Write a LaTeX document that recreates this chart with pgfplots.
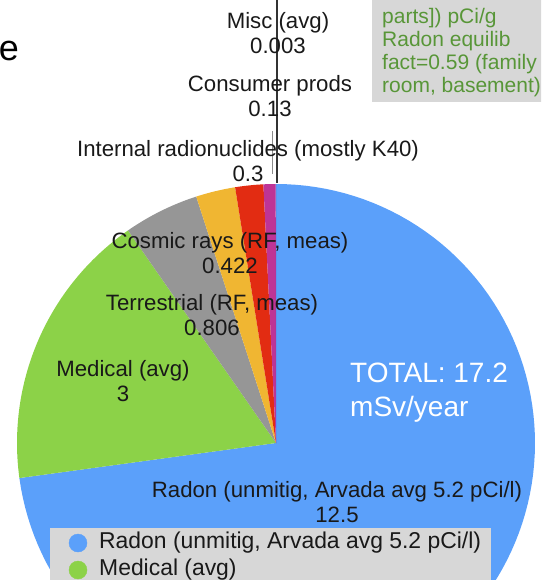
\documentclass[border=0pt]{standalone}
\usepackage{pgfplots}
\pgfplotsset{compat=1.18}
\usepackage{pgfplotstable}
\usepackage{fontspec}
\setmainfont{Liberation Sans}
\definecolor{cblue}{RGB}{91,160,250}
\definecolor{cgreen}{RGB}{140,210,72}
\definecolor{cgray}{RGB}{150,150,150}
\definecolor{corange}{RGB}{240,182,50}
\definecolor{cred}{RGB}{226,44,18}
\definecolor{cmag}{RGB}{190,52,150}
\definecolor{cmisc}{RGB}{120,60,170}
\definecolor{boxgray}{RGB}{215,215,215}
\definecolor{boxgreen}{RGB}{88,150,56}
\definecolor{txt}{RGB}{25,25,25}

\pgfplotstableread{
label value
Radon 12.5
Medical 3
Terrestrial 0.806
Cosmic 0.422
Internal 0.3
Consumer 0.13
Misc 0.003
}\piedata

\pgfplotstablegetelem{0}{value}\of\piedata\pgfmathsetmacro\va{\pgfplotsretval}
\pgfplotstablegetelem{1}{value}\of\piedata\pgfmathsetmacro\vb{\pgfplotsretval}
\pgfplotstablegetelem{2}{value}\of\piedata\pgfmathsetmacro\vc{\pgfplotsretval}
\pgfplotstablegetelem{3}{value}\of\piedata\pgfmathsetmacro\vd{\pgfplotsretval}
\pgfplotstablegetelem{4}{value}\of\piedata\pgfmathsetmacro\ve{\pgfplotsretval}
\pgfplotstablegetelem{5}{value}\of\piedata\pgfmathsetmacro\vf{\pgfplotsretval}
\pgfplotstablegetelem{6}{value}\of\piedata\pgfmathsetmacro\vg{\pgfplotsretval}
\pgfmathsetmacro\total{\va+\vb+\vc+\vd+\ve+\vf+\vg}
\pgfmathsetmacro\aA{360*(\va)/\total}
\pgfmathsetmacro\aB{360*(\va+\vb)/\total}
\pgfmathsetmacro\aC{360*(\va+\vb+\vc)/\total}
\pgfmathsetmacro\aD{360*(\va+\vb+\vc+\vd)/\total}
\pgfmathsetmacro\aE{360*(\va+\vb+\vc+\vd+\ve)/\total}
\pgfmathsetmacro\aF{360*(\va+\vb+\vc+\vd+\ve+\vf)/\total}

\newcommand{\cx}{276}
\newcommand{\cy}{443}
\newcommand{\R}{259}
\newcommand{\slice}[3]{%
  \addplot[fill=#3, draw=none, domain=#1:#2, samples=120, variable=\t]
    ({\cx+\R*sin(\t)},{\cy-\R*cos(\t)}) -- (axis cs:\cx,\cy) -- cycle;}

\begin{document}
\begin{tikzpicture}
\begin{axis}[
  x=1pt, y=1pt, scale only axis,
  xmin=0, xmax=541, ymin=0, ymax=580, y dir=reverse,
  hide axis, clip=true,
]
\slice{0}{\aA}{cblue}
\slice{\aA}{\aB}{cgreen}
\slice{\aB}{\aC}{cgray}
\slice{\aC}{\aD}{corange}
\slice{\aD}{\aE}{cred}
\slice{\aE}{\aF}{cmag}
\slice{\aF}{360}{cmisc}

% leader lines
\addplot[draw=black!80, line width=1.1pt] coordinates {(277,0) (277,183)};
\addplot[draw=black!45, line width=0.6pt] coordinates {(272,131) (272,174)};

% top-right note box
\fill[boxgray] (axis cs:372,-5) rectangle (axis cs:545,102);
\node[anchor=west, align=left, text=boxgreen, font=\fontsize{21}{23}\selectfont, inner sep=0pt]
  at (axis cs:382,53) {parts]) pCi/g\\Radon equilib\\fact=0.59 (family\\room, basement)};

% cropped title letter
\node[anchor=base east, text=black, font=\fontsize{36}{40}\selectfont, inner sep=0pt] at (axis cs:19,61) {e};

% slice labels
\begin{scope}[every node/.style={align=center, text=txt, inner sep=0pt, font=\fontsize{22.2}{25}\selectfont}]
\node at (axis cs:278,33) {Misc (avg)\\0.003};
\node at (axis cs:270,96) {Consumer prods\\0.13};
\node at (axis cs:248,161) {Internal radionuclides (mostly K40)\\0.3};
\node at (axis cs:230,253) {Cosmic rays (RF, meas)\\0.422};
\node at (axis cs:212,315) {Terrestrial (RF, meas)\\0.806};
\node at (axis cs:123,381) {Medical (avg)\\3};
\node at (axis cs:337,502) {Radon (unmitig, Arvada avg 5.2 pCi/l)\\12.5};
\end{scope}
\node[anchor=west, align=left, text=white, inner sep=0pt, font=\fontsize{28}{34}\selectfont]
  at (axis cs:350,393) {TOTAL: 17.2\\mSv/year};

% legend box
\fill[boxgray] (axis cs:50,528) rectangle (axis cs:491,590);
\addplot[only marks, mark=*, mark size=9pt, color=cblue] coordinates {(78,543)};
\addplot[only marks, mark=*, mark size=9pt, color=cgreen] coordinates {(78,570)};
\node[anchor=west, text=txt, inner sep=0pt, font=\fontsize{22.9}{27}\selectfont] at (axis cs:99,543) {Radon (unmitig, Arvada avg 5.2 pCi/l)};
\node[anchor=west, text=txt, inner sep=0pt, font=\fontsize{22.9}{27}\selectfont] at (axis cs:99,570) {Medical (avg)};
\end{axis}
\pgfresetboundingbox
\path (current axis.south west) rectangle (current axis.north east);
\end{tikzpicture}
\end{document}
